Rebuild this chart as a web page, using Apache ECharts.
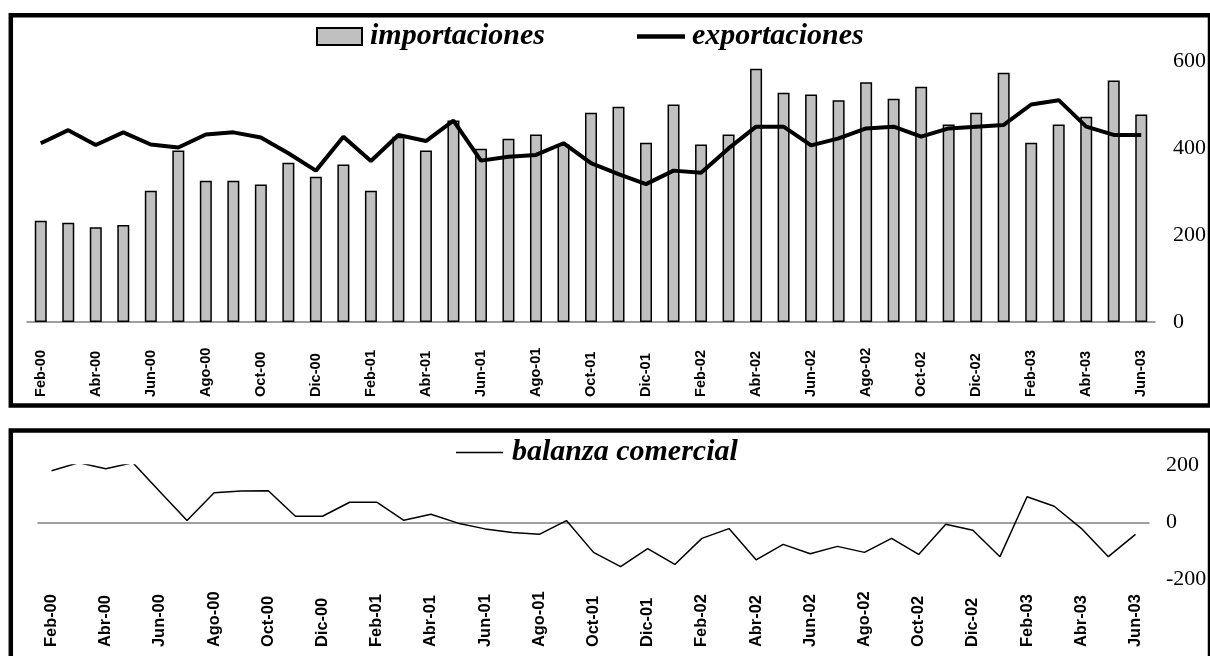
<!DOCTYPE html>
<html>
<head>
<meta charset="utf-8">
<script src="https://cdn.jsdelivr.net/npm/echarts@6/dist/echarts.min.js"></script>
<style>
  html, body { margin: 0; padding: 0; background: #fff; }
  #chart { width: 1210px; height: 656px; }
</style>
</head>
<body>
<div id="chart"></div>
<script>
// Monthly trade series, Feb-2000 to Jun-2003
const months = [
  'Feb-00','Mar-00','Abr-00','May-00','Jun-00','Jul-00','Ago-00','Sep-00','Oct-00','Nov-00','Dic-00',
  'Ene-01','Feb-01','Mar-01','Abr-01','May-01','Jun-01','Jul-01','Ago-01','Sep-01','Oct-01','Nov-01','Dic-01',
  'Ene-02','Feb-02','Mar-02','Abr-02','May-02','Jun-02','Jul-02','Ago-02','Sep-02','Oct-02','Nov-02','Dic-02',
  'Ene-03','Feb-03','Mar-03','Abr-03','May-03','Jun-03'
];

const importaciones = [
  233, 228, 218, 223, 302, 394, 325, 325, 316, 366, 334,
  362, 302, 426, 394, 463, 398, 421, 431, 408, 481, 495, 412,
  500, 408, 431, 582, 527, 523, 510, 551, 513, 541, 454, 481,
  573, 412, 454, 472, 555, 477
];

const exportaciones = [
  411, 441, 407, 436, 408, 401, 431, 436, 424, 388, 348,
  426, 370, 430, 416, 463, 371, 380, 384, 411, 365, 340, 317,
  348, 343, 399, 449, 449, 406, 422, 445, 449, 426, 445, 449,
  453, 500, 510, 449, 430, 430
];

const balanza = [
  180, 208, 187, 208, 107, 6, 103, 109, 110, 21, 21,
  70, 70, 7, 28, -3, -23, -36, -42, 6, -105, -155, -92,
  -147, -56, -22, -131, -77, -110, -84, -105, -56, -112, -7, -28,
  -120, 89, 56, -21, -120, -42
];

const topTicks = { min: 0, max: 600, interval: 200 };
const bottomTicks = { min: -200, max: 200, interval: 200 };

const serif = '"Liberation Serif", "Times New Roman", serif';
const sans = '"Liberation Sans", Arial, sans-serif';

const legendText = {
  fontFamily: serif, fontSize: 30, fontWeight: 'bold', fontStyle: 'italic', color: '#000'
};

const chart = echarts.init(document.getElementById('chart'), null, { renderer: 'canvas' });

chart.setOption({
  animation: false,
  backgroundColor: '#fff',
  grid: [
    { left: 27, right: 55, top: 61, bottom: 334, containLabel: false, outerBoundsMode: 'none' },
    { left: 38, right: 61, top: 465, bottom: 76.4, containLabel: false, outerBoundsMode: 'none' }
  ],
  legend: [
    {
      data: ['importaciones'], left: 316, top: 21.5, padding: 0,
      itemWidth: 45, itemHeight: 17, icon: 'rect', selectedMode: false,
      textStyle: Object.assign({ padding: [0, 0, 0, 3] }, legendText)
    },
    {
      data: ['exportaciones'], left: 637, top: 21.5, padding: 0,
      itemWidth: 48, itemHeight: 4.5, icon: 'rect', selectedMode: false,
      textStyle: Object.assign({ padding: [0, 0, 0, 2] }, legendText)
    },
    {
      data: ['balanza comercial'], left: 456, top: 437.5, padding: 0,
      itemWidth: 47, itemHeight: 1.5, icon: 'rect', selectedMode: false,
      textStyle: Object.assign({ padding: [0, 0, 0, 4] }, legendText)
    }
  ],
  xAxis: [
    {
      type: 'category', gridIndex: 0, data: months, boundaryGap: true,
      axisLine: { show: true, lineStyle: { color: '#808080', width: 1.5 } },
      axisTick: { show: false },
      axisLabel: {
        interval: 1, rotate: 90, align: 'left', margin: 75,
        fontFamily: sans, fontWeight: 'bold', fontSize: 14.6, color: '#000'
      }
    },
    {
      type: 'category', gridIndex: 1, data: months, boundaryGap: true,
      axisLine: { show: true, onZero: true, lineStyle: { color: '#808080', width: 1.5 } },
      axisTick: { show: false },
      axisLabel: {
        interval: 1, rotate: 90, align: 'left', margin: 67.4,
        fontFamily: sans, fontWeight: 'bold', fontSize: 16.4, color: '#000'
      }
    }
  ],
  yAxis: [
    {
      type: 'value', gridIndex: 0, position: 'right',
      min: topTicks.min, max: topTicks.max, interval: topTicks.interval,
      axisLine: { show: false }, axisTick: { show: false }, splitLine: { show: false },
      axisLabel: { margin: 18, fontFamily: serif, fontSize: 22, color: '#000' }
    },
    {
      type: 'value', gridIndex: 1, position: 'right',
      min: bottomTicks.min, max: bottomTicks.max, interval: bottomTicks.interval,
      axisLine: { show: false }, axisTick: { show: false }, splitLine: { show: false },
      axisLabel: { margin: 17, fontFamily: serif, fontSize: 22, color: '#000' }
    }
  ],
  series: [
    {
      name: 'importaciones', type: 'bar', xAxisIndex: 0, yAxisIndex: 0,
      data: importaciones, barWidth: 12,
      itemStyle: { color: '#c0c0c0', borderColor: '#000', borderWidth: 1.5 }
    },
    {
      name: 'exportaciones', type: 'line', xAxisIndex: 0, yAxisIndex: 0,
      data: exportaciones, symbol: 'none',
      lineStyle: { color: '#000', width: 4 }, itemStyle: { color: '#000' }, z: 3
    },
    {
      name: 'balanza comercial', type: 'line', xAxisIndex: 1, yAxisIndex: 1,
      data: balanza, symbol: 'none',
      lineStyle: { color: '#000', width: 1.5 }, itemStyle: { color: '#000' }
    }
  ],
  graphic: [
    {
      type: 'rect', silent: true, z: 10,
      shape: { x: 10.8, y: 15.3, width: 1199.2, height: 390.2 },
      style: { fill: 'none', stroke: '#000', lineWidth: 4.5 }
    },
    {
      type: 'rect', silent: true, z: 10,
      shape: { x: 10.8, y: 430.5, width: 1199.2, height: 260 },
      style: { fill: 'none', stroke: '#000', lineWidth: 4.5 }
    }
  ]
});
</script>
</body>
</html>
